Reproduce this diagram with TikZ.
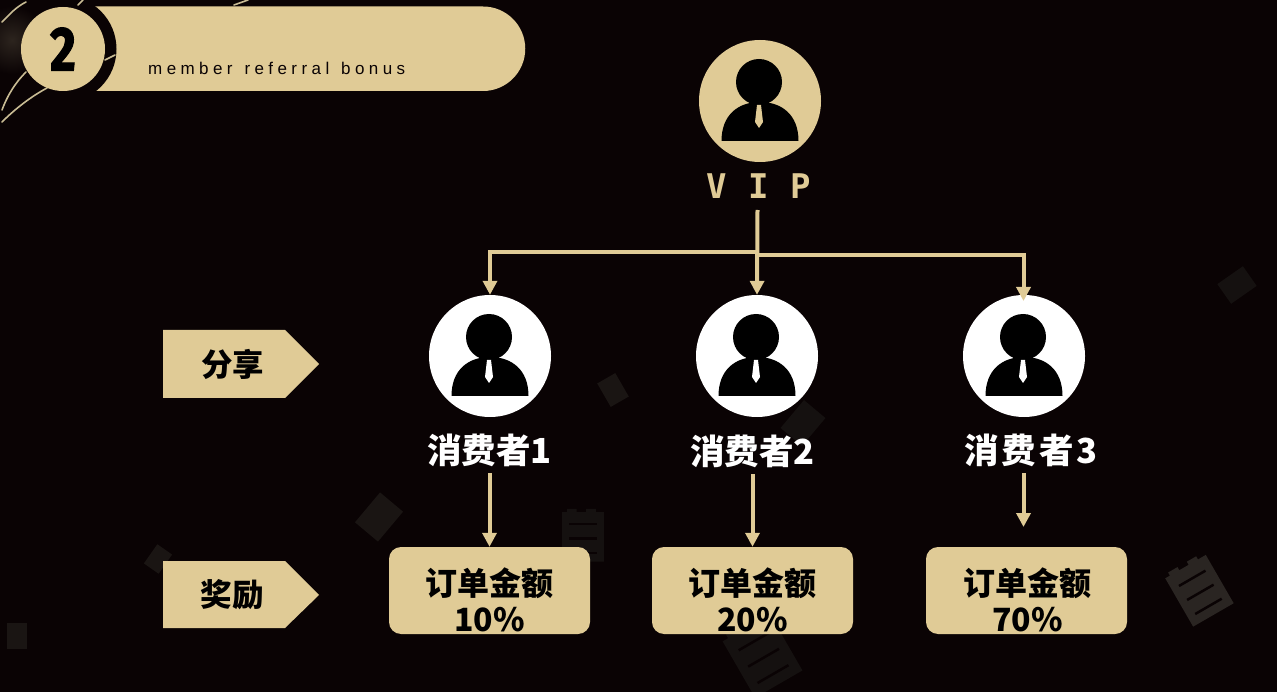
\documentclass[tikz,border=0pt]{standalone}
\usepackage{fontspec}
\usepackage{xcolor}
\usepackage{tikz}
\usetikzlibrary{arrows.meta}
\setmainfont{Noto Sans}
\newfontfamily\cjk{Noto Sans CJK SC}
\newfontfamily\spaced[LetterSpace=26,WordSpace=1.3]{Liberation Sans}
\newfontfamily\vipfont{DejaVu Sans Mono}
\newfontfamily\numfont[FakeBold=2]{Fira Sans Bold}
\definecolor{bg}{HTML}{0A0304}
\definecolor{gold}{HTML}{E0CB96}
\definecolor{paperlight}{HTML}{2A2522}
\definecolor{paper}{HTML}{1A1513}
\definecolor{paperdim}{HTML}{151110}
\definecolor{streak}{HTML}{C9BC94}
\tikzset{
  x=1pt, y=-1pt,
  link/.style={draw=gold, line width=4pt},
  tiplink/.style={link, -{Triangle[length=14pt,width=14pt]}},
  disc/.style={circle, inner sep=0pt, minimum size=122pt},
  tag/.style={font=\cjk\bfseries\fontsize{31.5}{34}\selectfont, text=black, inner sep=0pt},
  who/.style={font=\cjk\bfseries\fontsize{34.5}{36}\selectfont, text=white, inner sep=0pt, minimum height=46pt},
  rewardbox/.style={fill=gold, rounded corners=12pt, minimum width=201pt, minimum height=87pt, inner sep=0pt},
  amount/.style={font=\cjk\bfseries\fontsize{32}{36}\selectfont, text=black, align=center, inner sep=0pt},
  streakline/.style={draw=streak, line width=1.6pt, line cap=round},
  pics/person/.style={code={
    \fill[black] (-1,-19) circle (23);
    \fill[black] (-38.5,40) .. controls (-38.5,14) and (-22,1) .. (0,1)
      .. controls (22,1) and (38.5,14) .. (38.5,40) -- cycle;
    \fill[#1] (-3,4) -- (1,4) -- (3,21) -- (-1,27) -- (-5,21) -- cycle;
  }},
  pics/sheet/.style={code={
    \fill[#1] (-20,-26) -- (20,-26) -- (20,26) -- (-20,26) -- cycle;
  }},
  pics/receipt/.style={code={
    \fill[#1] (-26,-30) -- (-20,-30) -- (-20,-34) -- (-8,-34) -- (-8,-30) -- (4,-30) -- (4,-34) -- (16,-34) -- (16,-30) -- (26,-30) -- (26,32) -- (-26,32) -- cycle;
    \foreach \ly in {-15,3,21} \draw[bg, line width=2.5pt] (-17,\ly) -- (17,\ly);
  }}
}
\begin{document}
\begin{tikzpicture}
  \fill[bg] (0,0) rectangle (1277,692);
  \useasboundingbox (0,0) rectangle (1277,692);

  \pic[rotate=-40,scale=.75] at (379,517) {sheet=paper};
  \pic[scale=.8] at (583,536) {receipt=paperdim};
  \pic[rotate=30,scale=.52] at (613,390) {sheet=paper};
  \pic[rotate=-40,scale=.7] at (803,423) {sheet=paperdim};
  \pic[rotate=-55,scale=.6] at (1237,285) {sheet=paperdim};
  \pic[rotate=30,scale=.9] at (1199,590) {receipt=paperlight};
  \pic[rotate=30,scale=1.05] at (762,655) {receipt=paperdim};
  \pic[rotate=-35,scale=.45] at (158,559) {sheet=paper};
  \pic[scale=.5] at (17,636) {sheet=paper};

  \fill[gold] (80,6.5) -- (483,6.5) arc[start angle=-90, end angle=90, radius=42.25] -- (80,91) -- cycle;
  \fill[bg] (63,49) circle (53.5);
  \shade[inner color=streak!18!bg, outer color=bg] (12,40) circle (34);
  \draw[streakline] (2,22) .. controls (10,14) and (16,7) .. (26,2);
  \draw[streakline] (83,0) -- (78,5);
  \draw[streakline] (2,110) .. controls (8,94) and (16,82) .. (26,72);
  \draw[streakline] (2,122) .. controls (16,108) and (32,96) .. (47,88);
  \draw[streakline] (105,60) -- (115,55);
  \draw[streakline] (234,5) -- (248,0);
  \node[disc, minimum size=84pt, fill=gold] (badge) at (63,49) {};
  \node[inner sep=0pt, text=black, xscale=.8, transform shape, font=\numfont\fontsize{62}{62}\selectfont] (badgeNum) at (63,49) {2};
  \node[inner sep=0pt, anchor=base west, text=bg, font=\spaced\fontsize{17}{20}\selectfont] (subtitle) at (148,75) {member referral bonus};

  \node[disc, fill=gold] (vip) at (760,101) {};
  \pic at (vip) {person=gold};
  \node[inner sep=0pt, minimum height=48pt, text=gold, font=\vipfont\bfseries\fontsize{34}{36}\selectfont] (vipLabel) at (759,186) {V\hspace{21.5pt}I\hspace{21.5pt}P};

  \node[disc, fill=white] (consumerA) at (490,356) {};
  \node[disc, fill=white] (consumerB) at (757,356) {};
  \node[disc, fill=white] (consumerC) at (1024,356) {};
  \pic at (consumerA) {person=white};
  \pic at (consumerB) {person=white};
  \pic at (consumerC) {person=white};

  \node[who] (whoA) at (489.5,450) {消费者1};
  \node[who] (whoB) at (752.5,451) {消费者2};
  \node[who] (whoC) at (1031,450) {消\hspace{3pt}费\hspace{3pt}者\hspace{3pt}3};

  \node[rewardbox] (rewardA) at (489.5,590.5) {};
  \node[rewardbox] (rewardB) at (752.5,590.5) {};
  \node[rewardbox] (rewardC) at (1026.5,590.5) {};
  \node[amount] (amountA) at (489.5,600) {订单金额\\10\%};
  \node[amount] (amountB) at (752.5,600) {订单金额\\20\%};
  \node[amount] (amountC) at (1027.5,600) {订单金额\\70\%};

  \coordinate (hub) at (757.5,210);
  \coordinate (splitL) at (757.5,252);
  \coordinate (splitR) at (757.5,255);
  \coordinate (tipC) at (1023.5,301);
  \coordinate (tipR) at (1023.5,527);

  \draw[tiplink] (hub) -- (consumerB.north);
  \draw[tiplink] (splitL) -| (consumerA.north);
  \draw[tiplink] (splitR) -| (tipC);
  \draw[tiplink] (whoA.south) -- (rewardA.north);
  \draw[tiplink] (whoB.south) -- (rewardB.north);
  \draw[tiplink] (whoC.south -| tipR) -- (tipR);

  \fill[gold] (163,330) -- (285,330) -- (319,364) -- (285,398) -- (163,398) -- cycle;
  \fill[gold] (163,561) -- (285,561) -- (319,595) -- (285,628) -- (163,628) -- cycle;
  \node[tag] (share) at (232.5,364) {分享};
  \node[tag] (bonus) at (232,595) {奖励};
\end{tikzpicture}
\end{document}
